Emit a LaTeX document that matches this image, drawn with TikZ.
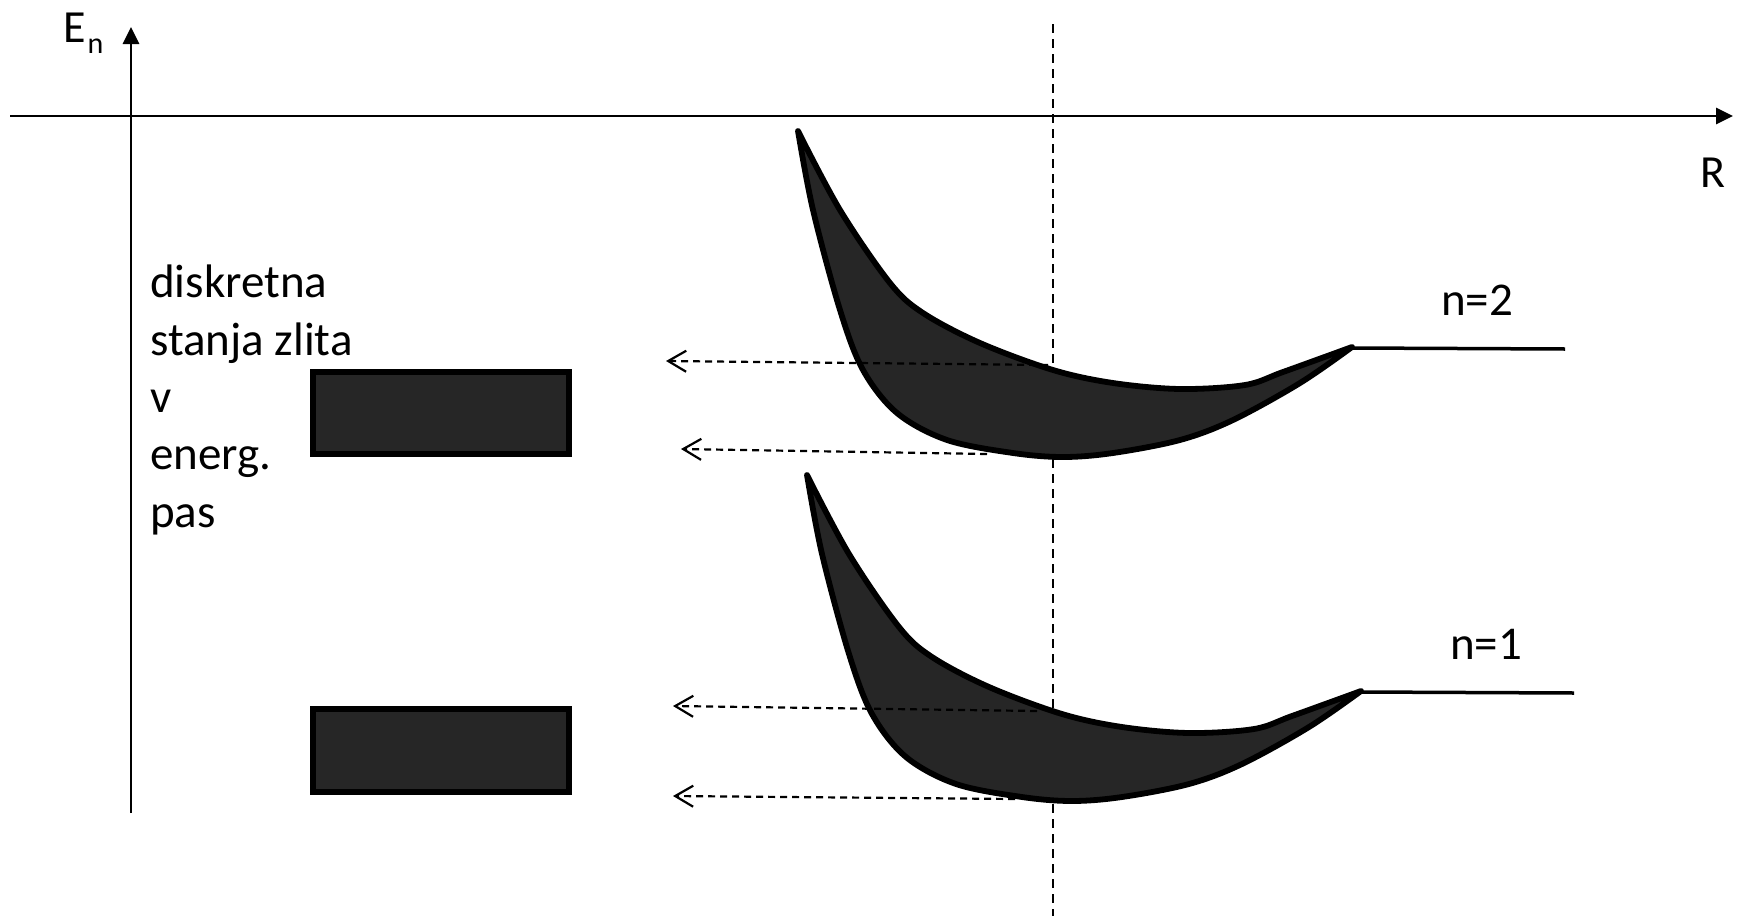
\documentclass[tikz,border=0pt]{standalone}
\usepackage{fontspec}
\setmainfont{Carlito}
\usetikzlibrary{arrows.meta}
\definecolor{bandfill}{RGB}{38,38,38}
\tikzset{
  axisline/.style={line width=2.8pt,-{Triangle[length=17pt,width=16pt]}},
  bandshape/.style={draw=black,fill=bandfill,line width=5.8pt,line join=round},
  bandbox/.style={rectangle,draw=black,fill=bandfill,line width=5.2pt,inner sep=0pt},
  statline/.style={line width=3.5pt},
  projarrow/.style={line width=2.2pt,dash pattern=on 7pt off 5pt,-{Straight Barb[length=18pt,width=21pt]}},
  midline/.style={line width=2.2pt,dash pattern=on 9pt off 6pt},
  bigtext/.style={inner sep=0pt,font=\fontsize{47}{57.3}\selectfont},
  bowl/.pic={
    \path[bandshape]
      plot[smooth,tension=0.55] coordinates {(798,131) (840,210) (890,283) (923,313) (980,343) (1053,370) (1113,383) (1180,389) (1245,385) (1283,372) (1352,347)}
      -- plot[smooth,tension=0.55] coordinates {(1352,347) (1300,383) (1233,420) (1180,440) (1113,453) (1063,457) (1013,453) (947,440) (897,413) (863,370) (840,310) (813,210) (798,131)}
      -- cycle;
  }
}
\begin{document}
\begin{tikzpicture}[x=1pt,y=-1pt]
\useasboundingbox (0,0) rectangle (1741,916);
% axes
\coordinate (xs) at (10,116);
\coordinate (xe) at (1733,116);
\coordinate (ys) at (131,813);
\coordinate (ye) at (131,27);
\draw[axisline] (xs) -- (xe);
\draw[axisline] (ys) -- (ye);
\node[bigtext,anchor=base west,font=\fontsize{46}{46}\selectfont] (En) at (63,42) {E\kern2pt\raisebox{-11pt}{\fontsize{30}{30}\selectfont n}};
\node[bigtext,anchor=base west,font=\fontsize{46}{46}\selectfont] (R) at (1700,187) {R};
% vertical dashed line
\coordinate (vt) at (1053,24);
\coordinate (vb) at (1053,916);
\draw[midline] (vt) -- (vb);
% bowls
\pic at (0,0) {bowl};
\pic at (9,344) {bowl};
% level lines
\coordinate (l2a) at (1352,348);
\coordinate (l2b) at (1565,349);
\coordinate (l1a) at (1361,692);
\coordinate (l1b) at (1574,693);
\draw[statline] (l2a) -- (l2b);
\draw[statline] (l1a) -- (l1b);
\node[bigtext,anchor=base] (n2) at (1477,315) {n=2};
\node[bigtext,anchor=base] (n1) at (1486,659) {n=1};
% band boxes
\node[bandbox,minimum width=256pt,minimum height=82pt] (b2) at (441,413) {};
\node[bandbox,minimum width=256pt,minimum height=83pt] (b1) at (441,750.5) {};
% projection arrows
\coordinate (a1s) at (1048,365); \coordinate (a1e) at (666,361);
\coordinate (a2s) at (987,454);  \coordinate (a2e) at (681,449);
\coordinate (a3s) at (1037,711); \coordinate (a3e) at (673,706);
\coordinate (a4s) at (1015,799); \coordinate (a4e) at (673,796);
\draw[projarrow] (a1s) -- (a1e);
\draw[projarrow] (a2s) -- (a2e);
\draw[projarrow] (a3s) -- (a3e);
\draw[projarrow] (a4s) -- (a4e);
% label (base anchor = last line)
\node[bigtext,anchor=base west,align=left] (lbl) at (150,527) {diskretna\\stanja zlita\\v\\energ.\\pas};
\end{tikzpicture}
\end{document}
